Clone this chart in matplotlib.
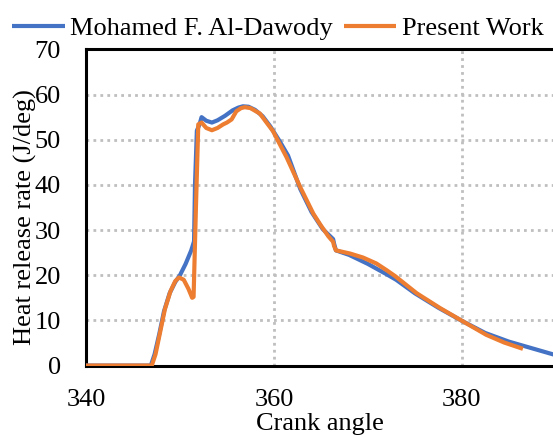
import matplotlib
matplotlib.use("Agg")
import matplotlib.pyplot as plt

# Heat release rate vs crank angle
dawody_ca = [340, 346.9, 347.3, 347.8, 348.3, 348.9, 349.5, 350.0, 350.6, 351.2, 351.5,
             351.6, 351.8, 352.1, 352.3, 352.8, 353.4, 354.0, 354.8, 355.6, 356.2, 356.7,
             357.3, 358.0, 358.8, 359.6, 360.6, 361.5, 362.8, 364.0, 365.2, 366.3, 366.4,
             366.6, 368.0, 370.0, 372.0, 373.0, 375.0, 377.5, 380.0, 382.5, 385.0, 387.5, 390.0]
dawody_hrr = [0, 0, 2.5, 7, 12, 16, 18.5, 20, 22.5, 25.5, 27.5,
              40, 52, 53.5, 55, 54.2, 53.8, 54.3, 55.3, 56.5, 57.1, 57.4,
              57.3, 56.6, 55.2, 53.0, 49.7, 46.5, 39.1, 34.0, 30.2, 28.0, 27.0,
              25.5, 24.5, 22.5, 20.2, 19.0, 16.0, 12.8, 9.9, 7.2, 5.3, 3.8, 2.3]

present_ca = [340, 347.0, 347.4, 347.9, 348.4, 349.0, 349.5, 349.9, 350.4, 350.9, 351.3,
              351.45, 351.7, 351.95, 352.3, 352.8, 353.4, 354.0, 354.6, 355.0, 355.5,
              356.0, 356.5, 356.9, 357.5, 358.5, 359.9, 361.35, 362.8, 364.2, 365.0,
              365.8, 366.3, 366.4, 366.6, 368.1, 369.5, 370.9, 372.0, 372.9, 375.2,
              377.7, 380.1, 382.6, 384.5, 386.5]
present_hrr = [0, 0, 2.5, 7.5, 12.5, 16.5, 18.7, 19.5, 19.0, 17.0, 15.0,
               15.2, 35, 53.4, 53.8, 52.6, 52.1, 52.6, 53.4, 53.8, 54.5,
               56.3, 57.0, 57.2, 57.0, 55.8, 51.9, 46.1, 39.5, 33.6, 31.0,
               28.6, 27.4, 26.5, 25.5, 24.8, 23.9, 22.6, 21.1, 19.8, 16.0,
               12.7, 9.8, 6.8, 5.1, 3.7]

x_ticks = [340, 360, 380]
y_ticks = [0, 10, 20, 30, 40, 50, 60, 70]

plt.rcParams['font.family'] = ['Liberation Serif', 'DejaVu Serif']

fig = plt.figure(figsize=(5.53, 4.37), dpi=100)
ax = fig.add_axes([0.1555, 0.1635, 0.8445, 0.7235])

ax.plot(dawody_ca, dawody_hrr, color='#4472C4', lw=3, label='Mohamed F. Al-Dawody',
        solid_joinstyle='round', solid_capstyle='butt', zorder=3)
ax.plot(present_ca, present_hrr, color='#ED7D31', lw=3, label='Present Work',
        solid_joinstyle='round', solid_capstyle='butt', zorder=4)

ax.set_xlim(340, 389.7)
ax.set_ylim(0, 70)
ax.set_xticks(x_ticks)
ax.set_yticks(y_ticks)
ax.tick_params(axis='both', length=0, labelsize=19)
ax.tick_params(axis='y', pad=18)
ax.tick_params(axis='x', pad=17)

ax.grid(True, color='#BFBFBF', linestyle=(0, (1, 1.5)), lw=2)
ax.set_axisbelow(True)

for side in ('left', 'bottom', 'top'):
    ax.spines[side].set_color('black')
    ax.spines[side].set_linewidth(2.2)
ax.spines['right'].set_visible(False)

ax.set_xlabel('Crank angle', fontsize=19, labelpad=1)
ax.set_ylabel('Heat release rate (J/deg)', fontsize=19)
ax.yaxis.set_label_coords(-0.105, 0.47)

leg = ax.legend(loc='lower left', bbox_to_anchor=(-0.158, 1.03), ncol=2, frameon=False,
                fontsize=19, handlelength=2.0, handletextpad=0.2, columnspacing=0.4,
                borderaxespad=0, borderpad=0)

fig.savefig('out.png', dpi=100)
